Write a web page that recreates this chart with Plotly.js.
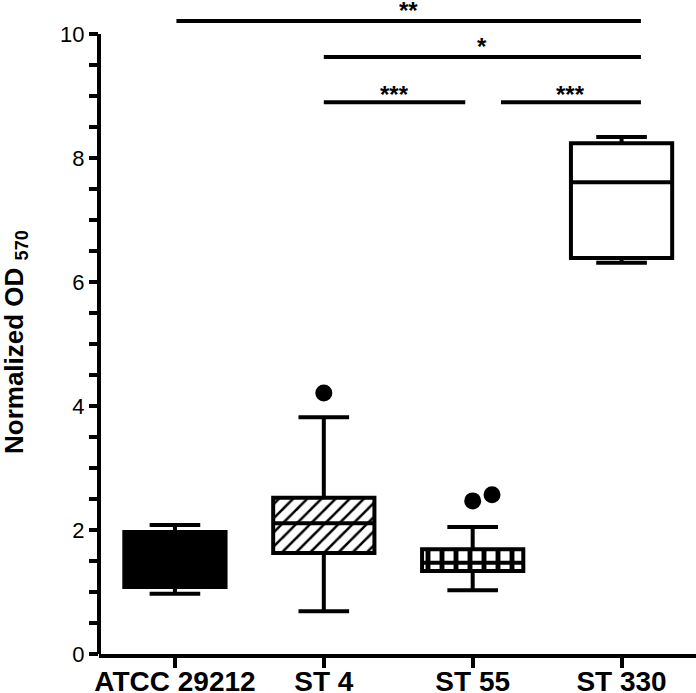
<!DOCTYPE html>
<html>
<head>
<meta charset="utf-8">
<script src="https://cdn.plot.ly/plotly-3.0.1.min.js"></script>
<style>
  html, body { margin: 0; padding: 0; background: #fff; }
  #chart { width: 696px; height: 693px; }
</style>
</head>
<body>
<div id="chart"></div>
<script>
var categories = ['ATCC 29212', 'ST 4', 'ST 55', 'ST 330'];
var xPos = [0, 1, 2, 3];

var lowVals = [0.97, 0.69, 1.03, 6.31];
var q1Vals = [1.08, 1.63, 1.34, 6.39];
var medianVals = [1.5, 2.11, 1.47, 7.61];
var q3Vals = [1.97, 2.52, 1.69, 8.24];
var highVals = [2.08, 3.82, 2.05, 8.34];

var outlierX = [1, 2, 2.13];
var outlierY = [4.21, 2.47, 2.57];

// significance brackets
var sigLabels = ['**', '*', '***', '***'];
var sigStart = [0.01, 1.0, 1.0, 2.19];
var sigEnd = [3.13, 3.13, 1.95, 3.13];
var sigY = [10.21, 9.63, 8.9, 8.9];

var fills = ['#000', 'rgba(0,0,0,0)', 'rgba(0,0,0,0)', '#fff'];
var patterns = ['', '/', '|', ''];

var FONT = 'Liberation Sans, Arial, sans-serif';
var boxW = 0.68;
var data = [];

// hatch fills under the boxes
for (var i = 0; i < categories.length; i++) {
  if (!patterns[i]) continue;
  data.push({
    type: 'bar',
    x: [xPos[i]],
    base: [q1Vals[i]],
    y: [q3Vals[i] - q1Vals[i]],
    width: boxW,
    marker: {
      color: '#fff',
      line: {width: 0},
      pattern: {shape: patterns[i], fgcolor: '#000', bgcolor: '#fff',
                size: patterns[i] == '/' ? 10 : 14, solidity: patterns[i] == '/' ? 0.25 : 0.35}
    },
    hoverinfo: 'none',
    showlegend: false
  });
}

for (var i = 0; i < categories.length; i++) {
  data.push({
    type: 'box',
    x: [xPos[i]],
    lowerfence: [lowVals[i]],
    q1: [q1Vals[i]],
    median: [medianVals[i]],
    q3: [q3Vals[i]],
    upperfence: [highVals[i]],
    width: boxW,
    whiskerwidth: 0.5,
    boxpoints: false,
    fillcolor: fills[i],
    line: {color: '#000', width: 4},
    hoverinfo: 'none',
    showlegend: false
  });
}

data.push({
  type: 'scatter',
  mode: 'markers',
  x: outlierX,
  y: outlierY,
  marker: {color: '#000', size: 17},
  hoverinfo: 'none',
  showlegend: false
});

var shapes = [{
  type: 'line', xref: 'paper', yref: 'y',
  x0: 0, x1: 0, y0: 0, y1: 10,
  line: {color: '#000', width: 4}
}];
var annotations = [];
for (var j = 0; j < sigLabels.length; j++) {
  shapes.push({
    type: 'line', xref: 'x', yref: 'y',
    x0: sigStart[j], x1: sigEnd[j], y0: sigY[j], y1: sigY[j],
    line: {color: '#000', width: 4}
  });
  annotations.push({
    x: (sigStart[j] + sigEnd[j]) / 2, y: sigY[j],
    xref: 'x', yref: 'y',
    text: sigLabels[j], showarrow: false,
    yanchor: 'bottom', yshift: sigLabels[j] == '***' ? -8 : -5,
    font: {family: FONT, size: 24, color: '#000', weight: 'bold'}
  });
}

// y axis title, placed by hand to sit where the original has it
annotations.push({
  xref: 'paper', yref: 'y', x: -0.141, y: 5.03,
  xanchor: 'center', yanchor: 'middle',
  textangle: -90, showarrow: false,
  text: 'Normalized OD <sub>570</sub>',
  font: {family: FONT, size: 26, color: '#000', weight: 'bold'}
});

var yTicks = [];
var yText = [];
for (var v = 0; v <= 10; v += 0.5) {
  yTicks.push(v);
  yText.push(v % 2 === 0 ? String(v) : '');
}

var layout = {
  width: 696,
  height: 693,
  margin: {l: 99, r: 0, t: 0, b: 39},
  paper_bgcolor: '#fff',
  plot_bgcolor: '#fff',
  boxmode: 'overlay',
  barmode: 'overlay',
  font: {family: FONT, color: '#000'},
  xaxis: {
    range: [-0.51, 3.5],
    tickvals: xPos,
    ticktext: categories,
    showgrid: false,
    zeroline: false,
    showline: true,
    linecolor: '#000',
    linewidth: 4,
    ticks: 'outside',
    ticklen: 10,
    tickwidth: 4,
    tickcolor: '#000',
    ticklabelstandoff: -11,
    tickfont: {size: 28, weight: 'bold'}
  },
  yaxis: {
    range: [0, 10.55],
    tickvals: yTicks,
    ticktext: yText,
    showgrid: false,
    zeroline: false,
    showline: false,
    ticks: 'outside',
    ticklen: 9,
    tickwidth: 4,
    tickcolor: '#000',
    tickfont: {size: 22}
  },
  shapes: shapes,
  annotations: annotations
};

Plotly.newPlot('chart', data, layout, {displayModeBar: false, staticPlot: true});
</script>
</body>
</html>
